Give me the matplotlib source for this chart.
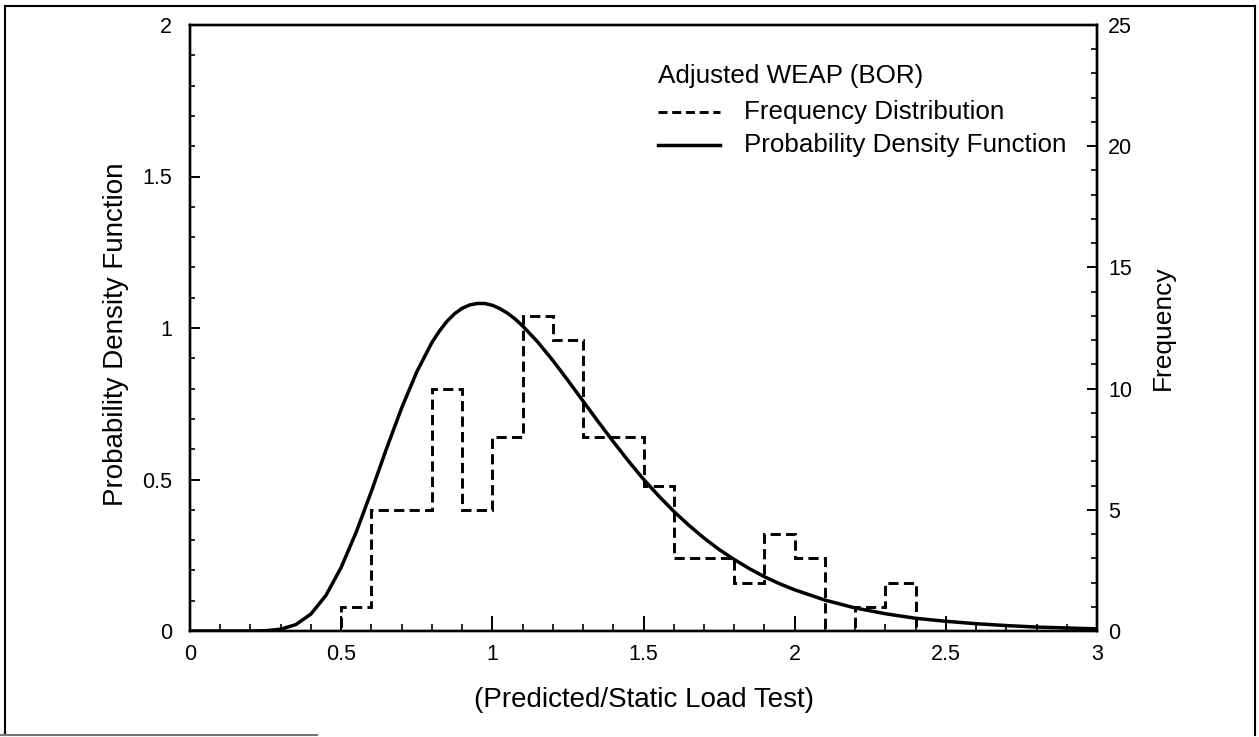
import matplotlib
matplotlib.use("Agg")
import matplotlib.pyplot as plt
from matplotlib.lines import Line2D
from matplotlib.ticker import MultipleLocator

plt.rcParams['font.family'] = ['Liberation Sans', 'DejaVu Sans']

# ---- data ----
pdf_x = [0.0, 0.1, 0.2, 0.25, 0.3, 0.35, 0.4, 0.45, 0.5, 0.55, 0.6, 0.65, 0.7, 0.75,
         0.8, 0.825, 0.85, 0.875, 0.9, 0.925, 0.95, 0.975, 1.0, 1.025, 1.05, 1.075,
         1.1, 1.15, 1.2, 1.25, 1.3, 1.35, 1.4, 1.45,
         1.5, 1.55, 1.6, 1.65, 1.7, 1.75, 1.8, 1.85, 1.9, 1.95, 2.0, 2.1, 2.2, 2.3,
         2.4, 2.5, 2.6, 2.7, 2.8, 2.9, 3.0]
pdf_y = [0.0, 0.0, 0.0, 0.001, 0.006, 0.021, 0.056, 0.118, 0.21, 0.327, 0.461, 0.602,
         0.736, 0.855, 0.952, 0.990, 1.022, 1.047, 1.065, 1.076, 1.081, 1.081, 1.075,
         1.064, 1.049, 1.030, 1.007, 0.954, 0.893,
         0.827, 0.759, 0.691, 0.625, 0.561, 0.501, 0.446, 0.395, 0.349, 0.307, 0.269,
         0.236, 0.206, 0.179, 0.156, 0.136, 0.102, 0.076, 0.057, 0.042, 0.032, 0.024,
         0.018, 0.013, 0.010, 0.007]

bin_edges = [0.0, 0.1, 0.2, 0.3, 0.4, 0.5, 0.6, 0.7, 0.8, 0.9, 1.0, 1.1, 1.2, 1.3, 1.4,
             1.5, 1.6, 1.7, 1.8, 1.9, 2.0, 2.1, 2.2, 2.3, 2.4, 2.5, 2.6, 2.7, 2.8, 2.9, 3.0]
freq_counts = [0, 0, 0, 0, 0, 1, 5, 5, 10, 5, 8, 13, 12, 8, 8, 6, 3, 3, 2, 4, 3, 0, 1, 2,
               0, 0, 0, 0, 0, 0]

x_ticks = [0, 0.5, 1, 1.5, 2, 2.5, 3]
x_ticklabels = ['0', '0.5', '1', '1.5', '2', '2.5', '3']
y_ticks = [0, 0.5, 1, 1.5, 2]
y_ticklabels = ['0', '0.5', '1', '1.5', '2']
y2_ticks = [0, 5, 10, 15, 20, 25]
y2_ticklabels = ['0', '5', '10', '15', '20', '25']

legend_title = 'Adjusted WEAP (BOR)'
label_hist = 'Frequency Distribution'
label_pdf = 'Probability Density Function'

# ---- figure ----
W, H = 1259, 737
fig = plt.figure(figsize=(W / 100, H / 100), dpi=100)

def fx(px):
    return px / W

def fy(py):
    return 1 - py / H

ax_l, ax_r, ax_t, ax_b = 190, 1097, 25, 631
ax = fig.add_axes([fx(ax_l), fy(ax_b), fx(ax_r - ax_l), (ax_b - ax_t) / H])
ax2 = ax.twinx()

# PDF curve (left axis)
ax.plot(pdf_x, pdf_y, color='black', lw=2.5, solid_capstyle='round',
        solid_joinstyle='round', zorder=3)

# Frequency histogram (right axis)
ax2.stairs(freq_counts, bin_edges, color='black', lw=2.1, linestyle=(0, (3.5, 1.8)),
           baseline=None, zorder=3)

ax.set_xlim(0, 3)
ax.set_ylim(0, 2)
ax2.set_ylim(0, 25)

ax.set_xticks(x_ticks)
ax.set_xticklabels(x_ticklabels)
ax.set_yticks(y_ticks)
ax.set_yticklabels(y_ticklabels)
ax2.set_yticks(y2_ticks)
ax2.set_yticklabels(y2_ticklabels)
ax.xaxis.set_minor_locator(MultipleLocator(0.1))
ax.yaxis.set_minor_locator(MultipleLocator(0.1))
ax2.yaxis.set_minor_locator(MultipleLocator(1))

tick_fs = 15.5
ax.tick_params(axis='x', which='major', direction='in', length=10.5, width=1.4,
               labelsize=tick_fs, pad=9, top=False)
ax.tick_params(axis='x', which='minor', direction='in', length=5, width=1.2, top=False)
ax.tick_params(axis='y', which='major', direction='in', length=7.5, width=1.4,
               labelsize=tick_fs, pad=13, right=False)
ax.tick_params(axis='y', which='minor', direction='in', length=3.8, width=1.2, right=False)
ax2.tick_params(axis='y', which='major', direction='in', length=7.5, width=1.4,
                labelsize=tick_fs, pad=8)
ax2.tick_params(axis='y', which='minor', direction='in', length=4.5, width=1.2)

for a in (ax, ax2):
    for s in a.spines.values():
        s.set_linewidth(1.7)

ax.set_xlabel('(Predicted/Static Load Test)', fontsize=20, va='center')
ax.xaxis.set_label_coords(0.5, -0.114)
ax.set_ylabel('Probability Density Function', fontsize=20, va='center')
ax.yaxis.set_label_coords((116 - ax_l) / (ax_r - ax_l), 0.49)
ax2.set_ylabel('Frequency', fontsize=19, va='center', rotation=90)
ax2.yaxis.set_label_coords((1163 - ax_l) / (ax_r - ax_l), 0.5)

# ---- legend (manual, matching layout) ----
leg_fs = 18.7
fig.text(fx(658), fy(76), legend_title, fontsize=leg_fs, ha='left', va='center')
fig.add_artist(Line2D([fx(658), fx(720)], [fy(112), fy(112)], transform=fig.transFigure,
                      color='black', lw=2.1, linestyle=(0, (3.1, 1.6))))
fig.text(fx(744), fy(112), label_hist, fontsize=leg_fs, ha='left', va='center')
fig.add_artist(Line2D([fx(658), fx(720)], [fy(145), fy(145)], transform=fig.transFigure,
                      color='black', lw=2.5))
fig.text(fx(744), fy(145), label_pdf, fontsize=leg_fs, ha='left', va='center')

# ---- outer frame ----
frame_kw = dict(transform=fig.transFigure, color='black', lw=1.5)
fig.add_artist(Line2D([fx(5), fx(1255)], [fy(6), fy(6)], **frame_kw))
fig.add_artist(Line2D([fx(5), fx(5)], [fy(6), fy(735)], **frame_kw))
fig.add_artist(Line2D([fx(1255), fx(1255)], [fy(6), fy(735)], **frame_kw))
fig.add_artist(Line2D([fx(0), fx(317)], [fy(735), fy(735)], transform=fig.transFigure,
                      color='#777777', lw=1.5))

fig.savefig('out.png', dpi=100)
